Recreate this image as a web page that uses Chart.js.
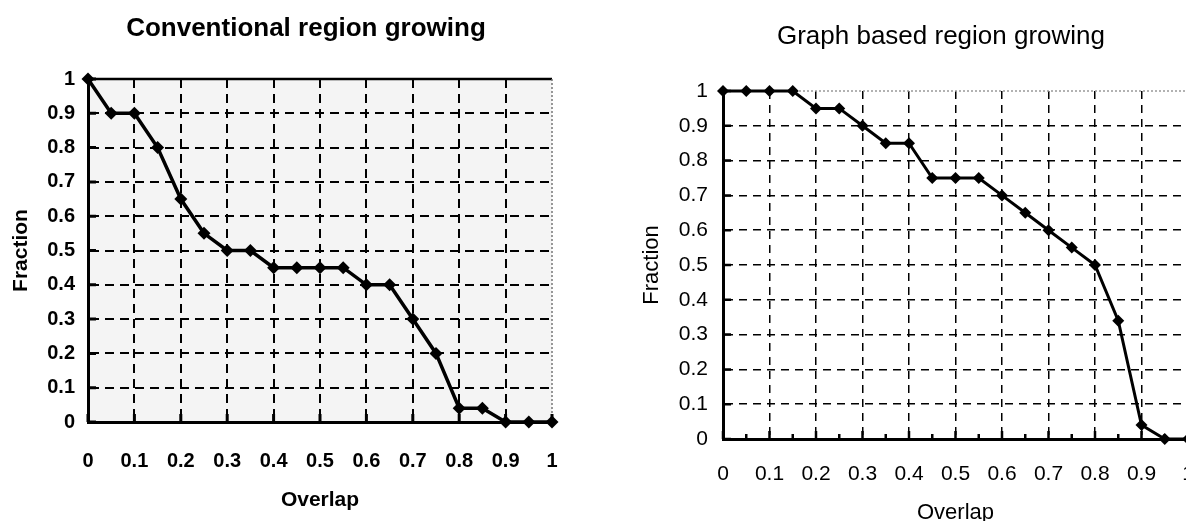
<!DOCTYPE html>
<html>
<head>
<meta charset="utf-8">
<script src="https://cdn.jsdelivr.net/npm/chart.js@4.4.1/dist/chart.umd.min.js"></script>
<style>
  html, body { margin: 0; padding: 0; background: #fff; overflow: hidden; width: 1186px; height: 521px; }
  .box { position: absolute; top: 0; }
  #leftBox { left: 0; width: 580px; height: 521px; }
  #rightBox { left: 600px; width: 600px; height: 530px; }
  .title {
    position: absolute; color: #000; white-space: nowrap;
    font-family: "Liberation Sans", Arial, sans-serif; font-size: 26px;
    transform: translate(-50%, -50%);
  }
</style>
</head>
<body>
<div id="leftBox" class="box"><canvas id="chartLeft"></canvas></div>
<div id="rightBox" class="box"><canvas id="chartRight"></canvas></div>
<div class="title" style="left:306px; top:27px; font-weight:bold;">Conventional region growing</div>
<div class="title" style="left:941px; top:35px;">Graph based region growing</div>

<script>
// valeurs
const overlap = [0, 0.05, 0.1, 0.15, 0.2, 0.25, 0.3, 0.35, 0.4, 0.45, 0.5, 0.55, 0.6, 0.65, 0.7, 0.75, 0.8, 0.85, 0.9, 0.95, 1];
const conventionalFraction = [1, 0.9, 0.9, 0.8, 0.65, 0.55, 0.5, 0.5, 0.45, 0.45, 0.45, 0.45, 0.4, 0.4, 0.3, 0.2, 0.04, 0.04, 0, 0, 0];
const graphFraction = [1, 1, 1, 1, 0.95, 0.95, 0.9, 0.85, 0.85, 0.75, 0.75, 0.75, 0.7, 0.65, 0.6, 0.55, 0.5, 0.34, 0.04, 0, 0];

const fractionTicks = [0, 0.1, 0.2, 0.3, 0.4, 0.5, 0.6, 0.7, 0.8, 0.9, 1];
const overlapTicks = [0, 0.1, 0.2, 0.3, 0.4, 0.5, 0.6, 0.7, 0.8, 0.9, 1];
const overlapMinorTicks = [0.05, 0.15, 0.25, 0.35, 0.45, 0.55, 0.65, 0.75, 0.85, 0.95];

const FONT = "'Liberation Sans', Arial, sans-serif";
Chart.defaults.font.family = FONT;
Chart.defaults.color = "#000";

function toPoints(xs, ys) {
  return xs.map((x, i) => ({ x, y: ys[i] }));
}

function isEdge(v) {
  return v === 0 || v === 1;
}

// fond + bord haut / droit du cadre
const framePlugin = {
  id: "frame",
  beforeDraw(chart, args, opts) {
    if (!opts.fill) return;
    const { ctx, chartArea: a } = chart;
    ctx.save();
    ctx.fillStyle = opts.fill;
    ctx.fillRect(a.left, a.top, a.width, a.height);
    ctx.restore();
  },
  beforeDatasetsDraw(chart, args, opts) {
    const { ctx, chartArea: a } = chart;
    ctx.save();
    [["top", a.left, a.top, a.right, a.top], ["right", a.right, a.top, a.right, a.bottom]].forEach(([k, x1, y1, x2, y2]) => {
      const s = opts[k];
      if (!s) return;
      ctx.strokeStyle = s.color;
      ctx.lineWidth = s.width;
      ctx.setLineDash(s.dash || []);
      ctx.beginPath();
      ctx.moveTo(x1, y1);
      ctx.lineTo(x2, y2);
      ctx.stroke();
    });
    ctx.restore();
  }
};

// petites graduations vers l'intérieur
const innerTicksPlugin = {
  id: "innerTicks",
  beforeDatasetsDraw(chart, args, opts) {
    const { ctx, chartArea: a, scales } = chart;
    ctx.save();
    ctx.strokeStyle = "#000";
    ctx.lineWidth = opts.width;
    ctx.beginPath();
    overlapTicks.forEach(v => {
      const px = scales.x.getPixelForValue(v);
      ctx.moveTo(px, a.bottom);
      ctx.lineTo(px, a.bottom - opts.major);
    });
    (opts.minor ? overlapMinorTicks : []).forEach(v => {
      const px = scales.x.getPixelForValue(v);
      ctx.moveTo(px, a.bottom);
      ctx.lineTo(px, a.bottom - opts.minor);
    });
    fractionTicks.forEach(v => {
      const py = scales.y.getPixelForValue(v);
      ctx.moveTo(a.left, py);
      ctx.lineTo(a.left + opts.major, py);
    });
    ctx.stroke();
    ctx.restore();
  }
};

function makeChart(id, cfg) {
  const tickFont = { family: FONT, size: cfg.tickSize, weight: cfg.weight };
  const titleFont = { family: FONT, size: cfg.titleSize, weight: cfg.weight };
  const gridColor = ctx => (ctx.tick && isEdge(ctx.tick.value)) ? "rgba(0,0,0,0)" : "#000";
  const border = { display: true, color: "#000", width: 3, dash: cfg.dash };

  return new Chart(document.getElementById(id), {
    type: "line",
    data: {
      datasets: [{
        data: toPoints(overlap, cfg.values),
        borderColor: "#000",
        borderWidth: cfg.lineWidth,
        pointStyle: "rectRot",
        pointRadius: cfg.pointRadius,
        pointBackgroundColor: "#000",
        pointBorderColor: "#000",
        pointBorderWidth: 0,
        tension: 0,
        clip: false
      }]
    },
    options: {
      responsive: true,
      maintainAspectRatio: false,
      animation: false,
      layout: { padding: cfg.padding },
      plugins: {
        legend: { display: false },
        tooltip: { enabled: false },
        frame: cfg.frame,
        innerTicks: cfg.innerTicks
      },
      scales: {
        x: {
          type: "linear", min: 0, max: 1,
          afterBuildTicks: s => { s.ticks = overlapTicks.map(v => ({ value: v })); },
          afterFit: s => { s.height = cfg.xHeight; },
          ticks: { font: tickFont, padding: 0, maxRotation: 0, autoSkip: false, callback: v => String(v) },
          // marque invisible qui sert d'écart entre l'axe et les libellés
          grid: { color: gridColor, lineWidth: cfg.gridWidth, drawTicks: true, tickLength: cfg.xGap, tickColor: "rgba(0,0,0,0)" },
          border,
          title: { display: true, text: "Overlap", font: titleFont, padding: { top: 0, bottom: cfg.xTitlePad } }
        },
        y: {
          type: "linear", min: 0, max: 1,
          afterBuildTicks: s => { s.ticks = fractionTicks.map(v => ({ value: v })); },
          afterFit: s => { s.width = cfg.yWidth; },
          ticks: { font: tickFont, padding: cfg.yPad, autoSkip: false, callback: v => String(v) },
          grid: { color: gridColor, lineWidth: cfg.gridWidth, drawTicks: false },
          border,
          title: { display: true, text: "Fraction", font: titleFont, padding: { top: cfg.yTitlePad, bottom: 0 } }
        }
      }
    },
    plugins: [framePlugin, innerTicksPlugin]
  });
}

makeChart("chartLeft", {
  values: conventionalFraction,
  weight: "bold", tickSize: 20, titleSize: 21,
  gridWidth: 2, dash: [9, 6], lineWidth: 3.5, pointRadius: 6.5,
  padding: { top: 79, right: 28, left: 0, bottom: 0 },
  xHeight: 99, yWidth: 88, xGap: 27, yPad: 13, xTitlePad: 8, yTitlePad: 9,
  frame: { fill: "#f4f4f4", top: { color: "#000", width: 2.5 }, right: { color: "#777", width: 1.5, dash: [2, 2] } },
  innerTicks: { width: 3, major: 8, minor: 0 }
});

makeChart("chartRight", {
  values: graphFraction,
  weight: "normal", tickSize: 21, titleSize: 22,
  gridWidth: 1.5, dash: [8, 6], lineWidth: 3, pointRadius: 6,
  padding: { top: 91, right: 12, left: 0, bottom: 0 },
  xHeight: 91, yWidth: 123, xGap: 23, yPad: 15, xTitlePad: 4, yTitlePad: 39,
  frame: { top: { color: "#999", width: 1.5, dash: [2, 2] } },
  innerTicks: { width: 2.5, major: 8, minor: 5 }
});
</script>
</body>
</html>
